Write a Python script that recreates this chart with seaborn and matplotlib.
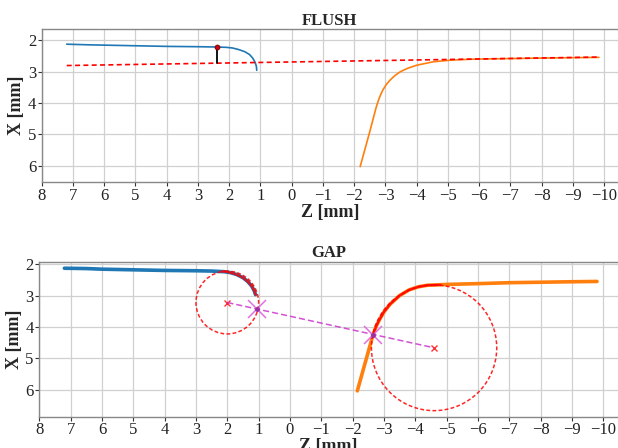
import numpy as np
import pandas as pd
import matplotlib
matplotlib.use("Agg")
import matplotlib.pyplot as plt
from matplotlib.patches import Circle
import seaborn as sns

# FLUSH profile
flush_left_z = [7.2, 6.5, 6.0, 5.0, 4.0, 3.0, 2.4, 2.1, 1.9, 1.7, 1.5, 1.35, 1.25, 1.17, 1.13, 1.12]
flush_left_x = [2.13, 2.15, 2.16, 2.18, 2.20, 2.21, 2.22, 2.23, 2.25, 2.30, 2.37, 2.46, 2.57, 2.71, 2.84, 2.96]
flush_right_z = [-2.19, -2.35, -2.51, -2.62, -2.70, -2.77, -2.84, -2.92, -3.03, -3.15, -3.3, -3.47,
                 -3.7, -4.0, -4.53, -5.07, -5.7, -6.5, -7.5, -8.5, -9.83]
flush_right_x = [6.03, 5.45, 4.87, 4.45, 4.15, 3.93, 3.75, 3.58, 3.41, 3.27, 3.13, 3.01,
                 2.90, 2.80, 2.69, 2.64, 2.61, 2.595, 2.58, 2.565, 2.55]
flush_ref_z = [7.2, -9.83]
flush_ref_x = [2.81, 2.54]
flush_pt = (2.4, 2.22)
flush_pt_ref = 2.74

# GAP profile
gap_left_z = [7.2, 6.5, 6.0, 5.0, 4.0, 3.0, 2.5, 2.1, 1.9, 1.7, 1.5, 1.35, 1.22, 1.14, 1.1]
gap_left_x = [2.13, 2.14, 2.16, 2.18, 2.20, 2.21, 2.22, 2.24, 2.27, 2.33, 2.43, 2.55, 2.70, 2.85, 2.97]
gap_left_arc_z = [2.18, 2.0, 1.8, 1.6, 1.45, 1.3, 1.2, 1.14, 1.1]
gap_left_arc_x = [2.23, 2.25, 2.30, 2.38, 2.47, 2.60, 2.73, 2.85, 2.97]
gap_right_z = [-2.15, -2.4, -2.65, -2.75, -2.85, -3.0, -3.2, -3.5, -3.8, -4.1, -4.4, -4.7, -5.0, -6.0, -7.0, -8.0, -9.0, -9.8]
gap_right_x = [6.03, 5.14, 4.25, 3.98, 3.78, 3.52, 3.27, 3.00, 2.82, 2.72, 2.67, 2.66, 2.645, 2.62, 2.59, 2.575, 2.56, 2.55]
gap_right_arc_z = [-2.62, -2.65, -2.75, -2.85, -3.0, -3.2, -3.5, -3.8, -4.1, -4.4, -4.8]
gap_right_arc_x = [4.35, 4.25, 3.98, 3.78, 3.52, 3.27, 3.00, 2.82, 2.72, 2.67, 2.66]
circle_left = (2.0, 3.22, 1.0)
circle_right = (-4.6, 4.66, 2.0)
tangent_z = [1.05, -2.65]
tangent_x = [3.43, 4.25]

sns.set_theme(style="whitegrid")
plt.rcParams['font.family'] = ['Liberation Serif', 'DejaVu Serif']

fig = plt.figure(figsize=(6.18, 4.48), dpi=100)
ax1 = fig.add_axes([0.0675, 0.593, 0.9325, 0.342])
ax2 = fig.add_axes([0.0636, 0.070, 0.9364, 0.346])

blue = '#1f77b4'
orange = '#ff7f0e'


def line(ax, z, x, **kw):
    d = pd.DataFrame({'z': z, 'x': x})
    sns.lineplot(data=d, x='z', y='x', ax=ax, sort=False, estimator=None, **kw)


# FLUSH
line(ax1, flush_left_z, flush_left_x, color=blue, lw=1.2)
line(ax1, flush_right_z, flush_right_x, color=orange, lw=1.2)
line(ax1, flush_ref_z, flush_ref_x, color='red', lw=1.2, linestyle=(0, (3, 2)))
ax1.plot([flush_pt[0], flush_pt[0]], [flush_pt[1], flush_pt_ref], color='black', lw=1.3)
ax1.plot(flush_pt[0], flush_pt[1], 'o', color='#d00010', mec='#700000', mew=0.6, ms=3.5, zorder=5)
ax1.set_title('FLUSH', fontweight='bold', fontsize=12, pad=3)
ax1.set_xlim(8, -10.44)
ax1.set_ylim(6.53, 1.65)

# GAP
line(ax2, gap_left_z, gap_left_x, color=blue, lw=2.6)
line(ax2, gap_right_z, gap_right_x, color=orange, lw=2.6)
line(ax2, gap_left_arc_z, gap_left_arc_x, color='red', lw=1.6, alpha=0.8)
line(ax2, gap_right_arc_z, gap_right_arc_x, color='red', lw=1.6, alpha=0.85)
for cz, cx, r in [circle_left, circle_right]:
    ax2.add_patch(Circle((cz, cx), r, fill=False, ec='red', lw=1.1,
                         linestyle=(0, (2.5, 1.5)), alpha=0.85, zorder=3))
    ax2.plot(cz, cx, 'x', color='red', ms=5, mew=1.0, alpha=0.8, zorder=4)
ax2.plot([circle_left[0], circle_right[0]], [circle_left[1], circle_right[1]],
         color='#cc33cc', lw=1.1, linestyle=(0, (4, 2)), alpha=0.85, zorder=4)
ax2.plot(tangent_z, tangent_x, 'x', color='#e070e0', ms=13, mew=1.1, zorder=5)
ax2.plot(tangent_z, tangent_x, 'o', color='#9b30a0', ms=2.5, zorder=6)
ax2.set_title('GAP', fontweight='bold', fontsize=12, pad=3)
ax2.set_xlim(8, -10.47)
ax2.set_ylim(6.85, 1.92)

for ax in (ax1, ax2):
    ax.set_xticks(np.arange(8, -11, -1))
    ax.set_yticks([2, 3, 4, 5, 6])
    ax.set_xticklabels([str(t).replace('-', '\u2212') for t in range(8, -11, -1)])
    ax.tick_params(labelsize=12, length=3, width=0.8, pad=1, colors='#333333',
                   bottom=True, left=True)
    ax.tick_params(labelcolor='#222222')
    ax.grid(True, color='#d0d0d0', lw=0.9)
    for s in ('left', 'bottom', 'top'):
        ax.spines[s].set_color('#888888')
        ax.spines[s].set_linewidth(1.0)
    ax.spines['right'].set_visible(False)
    ax.set_xlabel('Z [mm]', fontweight='bold', fontsize=13, labelpad=0)
    ax.set_ylabel('X [mm]', fontweight='bold', fontsize=13, labelpad=2)

fig.savefig('out.png', dpi=100)
